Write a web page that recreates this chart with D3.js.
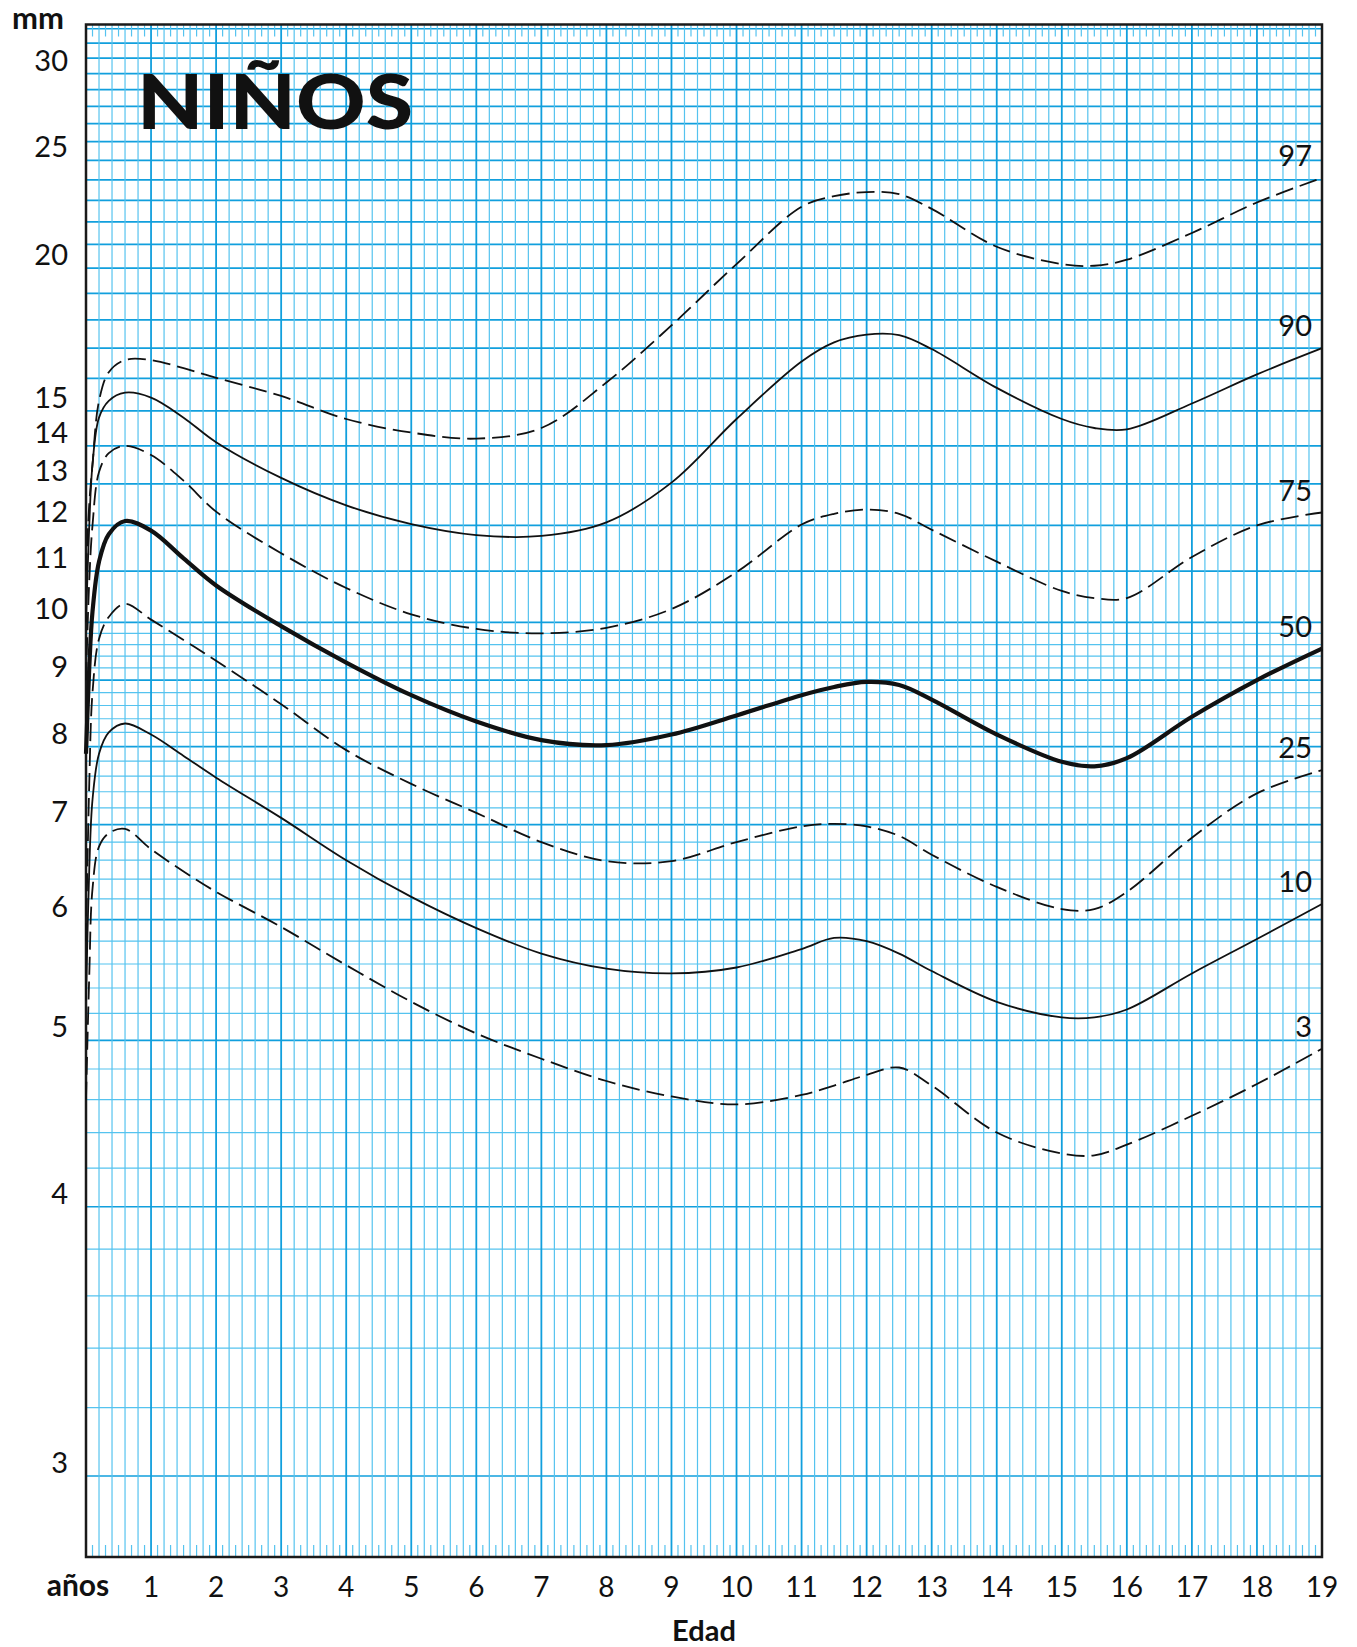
<!DOCTYPE html>
<html>
<head>
<meta charset="utf-8">
<script src="https://cdn.jsdelivr.net/npm/d3@7"></script>
<style>
  body { margin: 0; background: #fff; }
  text { font-family: Lato, "Open Sans", sans-serif; fill: #111; }
</style>
</head>
<body>
<svg id="chart" width="1357" height="1647"></svg>
<script>
// ages (years) at which the curves were read
var ages = [0, 0.05, 0.1, 0.2, 0.35, 0.6, 1, 1.5, 2, 3, 4, 5, 6, 7, 8, 9, 10, 11, 11.5, 12, 12.5, 13, 14, 15, 15.5, 16, 17, 18, 19];

// skinfold (mm) per percentile
var p97 = [11.0, 12.5, 13.5, 15.3, 16.2, 16.6, 16.6, 16.33, 16.02, 15.45, 14.76, 14.37, 14.2, 14.5, 15.87, 17.8, 20.17, 22.7, 23.2, 23.4, 23.3, 22.6, 20.9, 20.17, 20.1, 20.35, 21.5, 22.9, 24.1];
var p90 = [10.0, 12.0, 13.5, 14.8, 15.3, 15.55, 15.4, 14.8, 14.1, 13.15, 12.47, 12.03, 11.78, 11.76, 12.07, 13.03, 14.76, 16.55, 17.2, 17.47, 17.45, 16.97, 15.7, 14.76, 14.5, 14.46, 15.22, 16.13, 17.0];
var p75 = [9.0, 10.8, 12.0, 13.3, 13.8, 14.0, 13.75, 13.08, 12.32, 11.38, 10.66, 10.15, 9.88, 9.8, 9.9, 10.25, 10.98, 12.02, 12.27, 12.37, 12.27, 11.9, 11.2, 10.6, 10.46, 10.46, 11.3, 12.0, 12.3];
var p50 = [7.9, 9.2, 10.2, 11.2, 11.8, 12.1, 11.88, 11.27, 10.71, 9.93, 9.29, 8.76, 8.36, 8.09, 8.02, 8.17, 8.45, 8.76, 8.89, 8.97, 8.92, 8.69, 8.17, 7.79, 7.73, 7.84, 8.43, 9.0, 9.53];
var p25 = [5.8, 7.5, 8.8, 9.7, 10.1, 10.35, 10.05, 9.68, 9.32, 8.62, 7.95, 7.5, 7.14, 6.8, 6.59, 6.59, 6.8, 6.98, 7.01, 6.98, 6.87, 6.66, 6.32, 6.1, 6.1, 6.27, 6.85, 7.38, 7.68];
var p10 = [5.3, 6.5, 7.3, 7.9, 8.2, 8.33, 8.17, 7.87, 7.58, 7.08, 6.6, 6.22, 5.92, 5.69, 5.56, 5.52, 5.57, 5.73, 5.83, 5.8, 5.69, 5.54, 5.29, 5.17, 5.17, 5.23, 5.52, 5.82, 6.15];
var p3  = [4.6, 5.5, 6.3, 6.75, 6.9, 6.95, 6.72, 6.48, 6.27, 5.93, 5.59, 5.29, 5.05, 4.87, 4.72, 4.62, 4.57, 4.63, 4.69, 4.76, 4.81, 4.69, 4.4, 4.28, 4.27, 4.33, 4.5, 4.7, 4.94];

var percentiles = ["97", "90", "75", "50", "25", "10", "3"];
var yTickLabels = [3, 4, 5, 6, 7, 8, 9, 10, 11, 12, 13, 14, 15, 20, 25, 30];
var xTickLabels = d3.range(1, 20);

var svg = d3.select("#chart");

var plotLeft = 86, plotRight = 1322, plotTop = 24.5, plotBottom = 1557;

// the chart's scale is logarithmic in (skinfold - 1.8 mm)
var offset = 1.8, yMin = 2.8, yMax = 33.3;
var x = d3.scaleLinear().domain([0, 19]).range([plotLeft, plotRight]);
var yl = d3.scaleLog().domain([yMin - offset, yMax - offset]).range([plotBottom, plotTop]);
function y(v) { return yl(v - offset); }

var series = [p97, p90, p75, p50, p25, p10, p3].map(function(vals, i) {
  return {
    id: percentiles[i],
    values: ages.map(function(a, j) { return {age: a, v: vals[j]}; })
  };
});

// grid
var grid = svg.append("g").attr("class", "grid");
var minorColor = "#55c3ef", majorColor = "#119fdd";

var hLines = d3.range(15, 51).map(function(k) { return k / 5; })  // 3.0 .. 10.0 every 0.2
  .concat(d3.range(11, 34));
grid.selectAll(".hline")
  .data(hLines)
  .enter().append("line")
  .attr("class", "hline")
  .attr("x1", plotLeft).attr("x2", plotRight)
  .attr("y1", function(d) { return y(d); })
  .attr("y2", function(d) { return y(d); })
  .style("stroke", function(d) { return Number.isInteger(d) ? majorColor : minorColor; })
  .style("stroke-width", function(d) { return Number.isInteger(d) ? 1.7 : 1.2; });

var vLines = d3.range(1, 95).map(function(k) { return k / 5; });
grid.selectAll(".vline")
  .data(vLines)
  .enter().append("line")
  .attr("class", "vline")
  .attr("y1", plotTop).attr("y2", plotBottom)
  .attr("x1", function(d) { return x(d); })
  .attr("x2", function(d) { return x(d); })
  .style("stroke", function(d) { return Number.isInteger(d) ? majorColor : minorColor; })
  .style("stroke-width", function(d) { return Number.isInteger(d) ? 1.8 : 1.2; });

var shortTicks = d3.range(0, 95).map(function(k) { return 0.1 + k / 5; });
[[plotBottom, plotBottom - 12], [plotTop, plotTop + 12]].forEach(function(ends) {
  grid.append("g").selectAll("line")
    .data(shortTicks)
    .enter().append("line")
    .attr("y1", ends[0]).attr("y2", ends[1])
    .attr("x1", function(d) { return x(d); })
    .attr("x2", function(d) { return x(d); })
    .style("stroke", minorColor)
    .style("stroke-width", 1.2);
});

// frame
svg.append("rect")
  .attr("x", plotLeft).attr("y", plotTop)
  .attr("width", plotRight - plotLeft).attr("height", plotBottom - plotTop)
  .style("fill", "none")
  .style("stroke", "#1a1a1a")
  .style("stroke-width", 2.5);

// axis labels
svg.append("g").selectAll("text")
  .data(yTickLabels)
  .enter().append("text")
  .attr("x", 68)
  .attr("y", function(d) { return y(d) - 3; })
  .attr("text-anchor", "end")
  .attr("font-size", "29px")
  .text(function(d) { return d; });

svg.append("g").selectAll("text")
  .data(xTickLabels)
  .enter().append("text")
  .attr("x", function(d) { return x(d); })
  .attr("y", 1597)
  .attr("text-anchor", "middle")
  .attr("font-size", "28px")
  .text(function(d) { return d; });

svg.append("text")
  .attr("x", 78).attr("y", 1596)
  .attr("text-anchor", "middle")
  .attr("font-size", "30px")
  .attr("font-weight", "700")
  .text("años");

svg.append("text")
  .attr("x", (plotLeft + plotRight) / 2).attr("y", 1641)
  .attr("text-anchor", "middle")
  .attr("font-size", "29px")
  .attr("font-weight", "700")
  .text("Edad");

svg.append("text")
  .attr("x", 38).attr("y", 29)
  .attr("text-anchor", "middle")
  .attr("font-size", "31px")
  .attr("font-weight", "700")
  .text("mm");

svg.append("text")
  .attr("x", 137).attr("y", 129)
  .attr("font-size", "77px")
  .attr("font-weight", "900")
  .attr("textLength", 276)
  .attr("lengthAdjust", "spacingAndGlyphs")
  .text("NIÑOS");

// percentile curves
var dashed = {"97": true, "75": true, "25": true, "3": true};
var heavy = {"50": true};

var line = d3.line()
  .curve(d3.curveCatmullRom.alpha(0.5))
  .x(function(d) { return x(d.age); })
  .y(function(d) { return y(d.v); });

var curves = svg.selectAll(".pct")
  .data(series)
  .enter().append("g")
  .attr("class", "pct");

curves.append("path")
  .attr("d", function(d) { return line(d.values); })
  .style("fill", "none")
  .style("stroke", "#111")
  .style("stroke-width", function(d) { return heavy[d.id] ? 4.2 : 1.8; })
  .style("stroke-dasharray", function(d) { return dashed[d.id] ? "18,7" : null; })
  .style("stroke-linejoin", "round");

curves.append("text")
  .datum(function(d) { return {id: d.id, last: d.values[d.values.length - 1]}; })
  .attr("x", function(d) { return x(d.last.age) - 10; })
  .attr("y", function(d) { return y(d.last.v) - 12; })
  .attr("text-anchor", "end")
  .attr("font-size", "29px")
  .text(function(d) { return d.id; });
</script>
</body>
</html>
